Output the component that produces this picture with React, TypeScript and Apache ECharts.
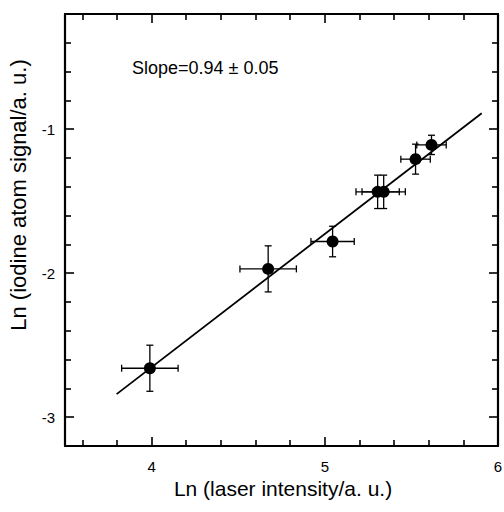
import React, { useEffect, useRef } from "react";
import * as echarts from "echarts";

// Data
const xValues = [3.99, 4.673, 5.045, 5.305, 5.34, 5.524, 5.616];
const yValues = [-2.66, -1.97, -1.78, -1.435, -1.435, -1.208, -1.109];
const xErrors = [0.163, 0.163, 0.125, 0.125, 0.125, 0.085, 0.085];
const yErrors = [0.16, 0.16, 0.106, 0.116, 0.116, 0.104, 0.067];
const fitX = [3.798, 5.906];
const fitY = [-2.84, -0.889];

const xTickLabels = [4, 5, 6];
const yTickLabels = [-3, -2, -1];
const xMinorTicks = [3.6, 3.8, 4.2, 4.4, 4.6, 4.8, 5.2, 5.4, 5.6, 5.8];
const yMinorTicks = [-2.8, -2.6, -2.4, -2.2, -1.8, -1.6, -1.4, -1.2, -0.8, -0.6, -0.4];

const slopeText = "Slope=0.94 \u00b1 0.05";
const xName = "Ln (laser intensity/a. u.)";
const yName = "Ln (iodine atom signal/a. u.)";

const FONT = "'Liberation Sans', Arial, Helvetica, sans-serif";

function makeAxis(
  kind: "x" | "y",
  position: string,
  major: boolean,
  withLabels: boolean
) {
  const isX = kind === "x";
  const ticks = major ? (isX ? xTickLabels : yTickLabels) : isX ? xMinorTicks : yMinorTicks;
  return {
    type: "value",
    position,
    min: isX ? 3.5 : -3.2,
    max: isX ? 6 : -0.2,
    axisLine: major
      ? { show: true, lineStyle: { color: "#000", width: 2.2 } }
      : { show: false },
    axisTick: {
      show: true,
      inside: true,
      length: major ? 9 : 6,
      customValues: ticks,
      lineStyle: { color: "#000", width: 1.6 },
    },
    axisLabel: {
      show: withLabels,
      customValues: ticks,
      margin: isX ? 13 : 10,
      fontSize: 15,
      color: "#000",
      fontFamily: FONT,
    },
    splitLine: { show: false },
  };
}

export default function App() {
  const ref = useRef<HTMLDivElement>(null);

  useEffect(() => {
    document.body.style.margin = "0";
    if (!ref.current) return;
    const chart = echarts.init(ref.current, null, { renderer: "svg" });

    const points = xValues.map((x, i) => [x, yValues[i]]);
    const errData = xValues.map((x, i) => [x, yValues[i], xErrors[i], yErrors[i]]);
    const fitData = fitX.map((x, i) => [x, fitY[i]]);

    const cap = 3.5;
    const option = {
      animation: false,
      backgroundColor: "#fff",
      grid: {
        left: 65,
        right: 6,
        top: 14,
        bottom: 66,
        containLabel: false,
        outerBoundsMode: "none",
      },
      xAxis: [
        makeAxis("x", "bottom", true, true),
        makeAxis("x", "bottom", false, false),
        makeAxis("x", "top", true, false),
        makeAxis("x", "top", false, false),
      ],
      yAxis: [
        makeAxis("y", "left", true, true),
        makeAxis("y", "left", false, false),
        makeAxis("y", "right", true, false),
        makeAxis("y", "right", false, false),
      ],
      graphic: [
        {
          type: "text",
          left: 132,
          top: 59,
          style: {
            text: slopeText,
            fontSize: 18,
            fontFamily: FONT,
            fill: "#000",
          },
        },
        {
          type: "text",
          x: 283,
          y: 488,
          style: {
            text: xName,
            fontSize: 21,
            fontFamily: FONT,
            fill: "#000",
            align: "center",
            verticalAlign: "middle",
          },
        },
        {
          type: "text",
          x: 18,
          y: 195,
          rotation: Math.PI / 2,
          style: {
            text: yName,
            fontSize: 22,
            fontFamily: FONT,
            fill: "#000",
            align: "center",
            verticalAlign: "middle",
          },
        },
      ],
      series: [
        {
          type: "line",
          data: fitData,
          showSymbol: false,
          symbol: "none",
          lineStyle: { color: "#000", width: 1.8 },
          z: 2,
        },
        {
          type: "custom",
          data: errData,
          encode: { x: 0, y: 1 },
          z: 3,
          renderItem: (params: any, api: any) => {
            const x = api.value(0);
            const y = api.value(1);
            const dx = api.value(2);
            const dy = api.value(3);
            const l = api.coord([x - dx, y]);
            const r = api.coord([x + dx, y]);
            const t = api.coord([x, y + dy]);
            const b = api.coord([x, y - dy]);
            const style = { stroke: "#000", lineWidth: 1.3, fill: "none" };
            const mk = (x1: number, y1: number, x2: number, y2: number) => ({
              type: "line",
              shape: { x1, y1, x2, y2 },
              style,
            });
            return {
              type: "group",
              children: [
                mk(l[0], l[1], r[0], r[1]),
                mk(l[0], l[1] - cap, l[0], l[1] + cap),
                mk(r[0], r[1] - cap, r[0], r[1] + cap),
                mk(t[0], t[1], b[0], b[1]),
                mk(t[0] - cap, t[1], t[0] + cap, t[1]),
                mk(b[0] - cap, b[1], b[0] + cap, b[1]),
              ],
            };
          },
        },
        {
          type: "scatter",
          data: points,
          symbol: "circle",
          symbolSize: 12,
          itemStyle: { color: "#000", opacity: 1 },
          z: 4,
        },
      ],
    };

    chart.setOption(option as any);
    return () => chart.dispose();
  }, []);

  return <div ref={ref} style={{ width: 504, height: 512 }} />;
}
